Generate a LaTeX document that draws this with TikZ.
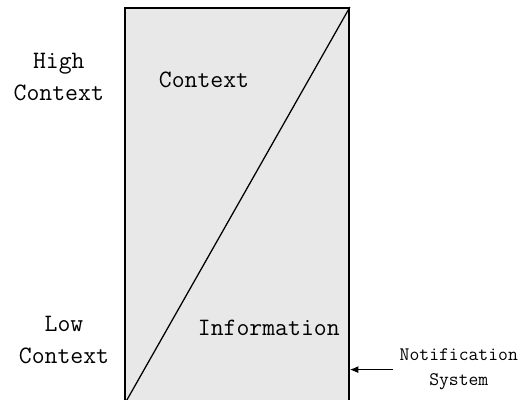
\documentclass[tikz,border=0pt]{standalone}
\usepackage{fontspec}
\usepackage{tikz}
\usetikzlibrary{arrows.meta,positioning,calc}
\usepackage{xcolor}

\definecolor{panelgray}{RGB}{232,232,232}

\begin{document}
\begin{tikzpicture}[>={Latex[length=6pt,width=5pt]},
    lbl/.style={align=center, inner sep=0pt,
                font=\ttfamily\fontsize{17.8pt}{22.8pt}\selectfont},
    small/.style={align=center, inner sep=0.15cm,
                font=\ttfamily\fontsize{13.6pt}{17.8pt}\selectfont}]

  \useasboundingbox (0,0) rectangle (13.05,-9.975);

  %% ── Panel with the split ───────────────────────────────────
  \node[draw, line width=1.3pt, fill=panelgray, inner sep=0pt,
        minimum width=5.6cm, minimum height=9.9cm] (panel) at (5.925,-5.15) {};
  \draw[line width=0.9pt] (panel.south west) -- (panel.north east);

  \node[lbl] (ctx)  at (5.1,-2.0)  {Context};
  \node[lbl] (info) at (6.72,-8.2) {Information};

  %% ── Scale labels (left margin) ─────────────────────────────
  \node[lbl] (high) at (1.47,-1.92) {High\\Context};
  \node[lbl] (low)  at (1.6,-8.51)  {Low\\Context};

  %% ── Notification system ────────────────────────────────────
  \node[small] (notif) at (11.47,-9.24) {Notification\\System};
  \draw[->, line width=0.7pt] (notif.west) -- (panel.east |- notif.west);

\end{tikzpicture}
\end{document}
